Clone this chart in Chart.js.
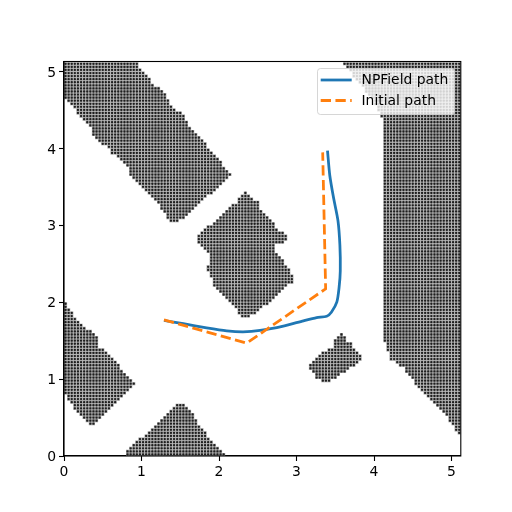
<!DOCTYPE html>
<html>
<head>
<meta charset="utf-8">
<title>NPField path</title>
<script src="https://cdn.jsdelivr.net/npm/chart.js@4/dist/chart.umd.min.js"></script>
<style>
    html, body { margin: 0; padding: 0; background: #fff; }
    canvas { display: block; }
</style>
</head>
<body>
<canvas id="chart" width="512" height="512"></canvas>
<script>
// map cells are 0.04 wide, rows are counted from the top of the map
const cellSize = 0.04;
const rowCount = 128;

// each obstacle: first row, then [first column, last column] for each row below it
const bandTop = 0;
const bandRows = [[0,23],[0,23],[0,24],[0,25],[0,26],[0,27],[0,27],[0,28],[0,30],[0,31],[0,32],[0,32],
    [1,33],[2,33],[3,34],[4,35],[4,37],[5,38],[6,38],[7,39],[8,39],[9,40],[9,41],[9,42],[10,43],[11,44],
    [12,45],[14,45],[15,46],[15,47],[17,48],[18,49],[19,50],[20,50],[21,51],[21,52],[21,53],[22,52],
    [23,51],[24,50],[25,49],[26,48],[27,47],[28,45],[29,44],[30,43],[31,42],[31,41],[32,40],[33,39],
    [33,38],[34,36]];

const centerTop = 42;
const centerRows = [[58,58],[57,59],[56,60],[56,62],[54,62],[53,62],[52,63],[51,64],[50,65],[49,66],
    [48,67],[46,67],[45,68],[44,70],[43,71],[43,71],[43,70],[44,67],[45,67],[46,67],[47,68],[47,69],
    [47,70],[47,70],[46,71],[46,72],[47,72],[47,73],[48,73],[48,73],[48,71],[49,70],[50,69],[51,68],
    [52,67],[53,66],[54,65],[55,63],[56,62],[56,61],[57,59]];

const leftTop = 78;
const leftRows = [[0,0],[0,0],[0,1],[0,2],[0,2],[0,3],[0,4],[0,5],[0,6],[0,8],[0,9],[0,10],[0,10],[0,10],
    [0,10],[0,12],[0,13],[0,14],[0,15],[0,16],[0,17],[0,17],[0,18],[0,19],[0,20],[0,21],[0,22],[0,21],
    [0,20],[0,19],[1,18],[1,17],[2,16],[3,15],[3,14],[4,13],[5,12],[6,11],[7,10],[8,9]];

const bottomTop = 111;
const bottomRows = [[36,38],[35,39],[34,40],[33,41],[32,41],[31,42],[30,42],[29,43],[28,44],[27,45],
    [26,45],[24,46],[23,47],[22,48],[21,49],[20,50],[20,51]];

const islandTop = 88;
const islandRows = [[89,89],[88,90],[87,90],[87,92],[87,92],[85,93],[83,94],[82,95],[81,95],[80,94],
    [79,93],[79,91],[80,90],[81,88],[81,87],[83,85]];

// right wall always runs to the last column, so only its first column is listed
const wallLastColumn = 127;
const wallTop = 0;
const wallStarts = [90,91,92,93,93,94,95,96,97,97,98,99,100,100,101,101,102,102,103,103,
    103,103,103,103,103,103,103,103,103,103,103,103,103,103,103,103,103,103,103,103,
    103,103,103,103,103,103,103,103,103,103,103,103,103,103,103,103,103,103,103,103,
    103,103,103,103,103,103,103,103,103,103,103,103,103,103,103,103,103,103,103,103,
    103,103,103,103,103,103,103,103,103,103,103,
    104,104,104,105,105,105,107,108,110,110,111,112,113,113,114,115,116,117,118,119,
    120,121,122,123,124,124,125,126,126,127];

const npfieldX = [1.29,1.54,1.84,2.10,2.31,2.53,2.83,3.09,3.26,3.39,3.45,3.52,3.55,3.565,3.56,3.535,3.48,3.43,3.40];
const npfieldY = [1.762,1.72,1.667,1.628,1.615,1.632,1.689,1.758,1.80,1.818,1.87,2.0,2.195,2.41,2.74,3.06,3.347,3.645,3.97];

const initialX = [1.29,2.357,3.376,3.338];
const initialY = [1.77,1.468,2.174,3.948];

const xTicks = [0,1,2,3,4,5];
const yTicks = [0,1,2,3,4,5];
const legendLabels = ["NPField path", "Initial path"];

const blue = "#1f77b4";
const orange = "#ff7f0e";
const fontFamily = "'DejaVu Sans'";
const fontSize = 13.9;

// turn the row tables into one point per occupied cell
function addRows(points, top, rows) {
    rows.forEach((row, i) => {
        for (let col = row[0]; col <= row[1]; col++) {
            points.push({
                x: (col + 0.5) * cellSize,
                y: (rowCount - 1 - (top + i) + 0.5) * cellSize
            });
        }
    });
}

const obstaclePoints = [];
addRows(obstaclePoints, bandTop, bandRows);
addRows(obstaclePoints, centerTop, centerRows);
addRows(obstaclePoints, leftTop, leftRows);
addRows(obstaclePoints, bottomTop, bottomRows);
addRows(obstaclePoints, islandTop, islandRows);
addRows(obstaclePoints, wallTop, wallStarts.map(start => [start, wallLastColumn]));

const zip = (xs, ys) => xs.map((x, i) => ({ x: x, y: ys[i] }));

// top and right spines, and a legend that sits over the marks like matplotlib's
const framePlugin = {
    id: "frame",
    afterDatasetsDraw(chart) {
        const ctx = chart.ctx;
        const area = chart.chartArea;
        ctx.save();

        ctx.strokeStyle = "#000";
        ctx.lineWidth = 1.1;
        ctx.strokeRect(area.left, area.top, area.right - area.left, area.bottom - area.top);

        ctx.beginPath();
        ctx.roundRect(317.5, 68.5, 137, 46, 3);
        ctx.fillStyle = "rgba(255,255,255,0.8)";
        ctx.fill();
        ctx.strokeStyle = "rgba(204,204,204,0.8)";
        ctx.lineWidth = 1;
        ctx.stroke();

        ctx.lineWidth = 2.78;
        ctx.strokeStyle = blue;
        ctx.beginPath();
        ctx.moveTo(320.7, 80);
        ctx.lineTo(351.7, 80);
        ctx.stroke();

        ctx.strokeStyle = orange;
        ctx.setLineDash([10.3, 4.45]);
        ctx.beginPath();
        ctx.moveTo(320.7, 100.5);
        ctx.lineTo(351.7, 100.5);
        ctx.stroke();
        ctx.setLineDash([]);

        ctx.fillStyle = "#000";
        ctx.font = fontSize + "px " + fontFamily;
        ctx.textBaseline = "middle";
        ctx.fillText(legendLabels[0], 361.5, 80.5);
        ctx.fillText(legendLabels[1], 361.5, 101.5);
        ctx.restore();
    }
};

function axisOptions(ticks, max, labelOffset) {
    return {
        type: "linear",
        min: 0,
        max: max,
        afterBuildTicks: axis => { axis.ticks = ticks.map(v => ({ value: v })); },
        ticks: {
            color: "#000",
            font: { family: fontFamily, size: fontSize },
            padding: 3,
            labelOffset: labelOffset,
            maxRotation: 0,
            autoSkip: false,
            callback: v => String(v)
        },
        grid: { drawOnChartArea: false, color: "#000", tickLength: 5, tickWidth: 1.1 },
        border: { color: "#000", width: 1.1 }
    };
}

const xAxis = axisOptions(xTicks, 5.12, 0);
xAxis.afterFit = axis => { axis.height = 56; };
const yAxis = axisOptions(yTicks, 5.13, 1.5);
yAxis.afterFit = axis => { axis.width = 64; };

new Chart(document.getElementById("chart"), {
    type: "scatter",
    data: {
        datasets: [
            {
                label: "Obstacle dots",
                data: obstaclePoints,
                order: 3,
                showLine: false,
                pointRadius: 1.15,
                pointBorderWidth: 0,
                pointBackgroundColor: "#1e1e1e"
            },
            {
                label: "Obstacle cells",
                data: obstaclePoints,
                order: 4,
                showLine: false,
                pointStyle: "rect",
                pointRadius: 2.2,
                pointBorderWidth: 0,
                pointBackgroundColor: "#9a9a9a"
            },
            {
                label: legendLabels[0],
                data: zip(npfieldX, npfieldY),
                order: 2,
                showLine: true,
                borderColor: blue,
                borderWidth: 2.78,
                tension: 0.25,
                pointRadius: 0
            },
            {
                label: legendLabels[1],
                data: zip(initialX, initialY),
                order: 1,
                showLine: true,
                borderColor: orange,
                borderWidth: 2.78,
                borderDash: [10.3, 4.45],
                tension: 0,
                pointRadius: 0
            }
        ]
    },
    options: {
        responsive: false,
        animation: false,
        layout: { padding: { top: 61.5, right: 51.2, left: 0, bottom: 0 } },
        plugins: {
            legend: { display: false },
            tooltip: { enabled: false }
        },
        scales: { x: xAxis, y: yAxis }
    },
    plugins: [framePlugin]
});
</script>
</body>
</html>
